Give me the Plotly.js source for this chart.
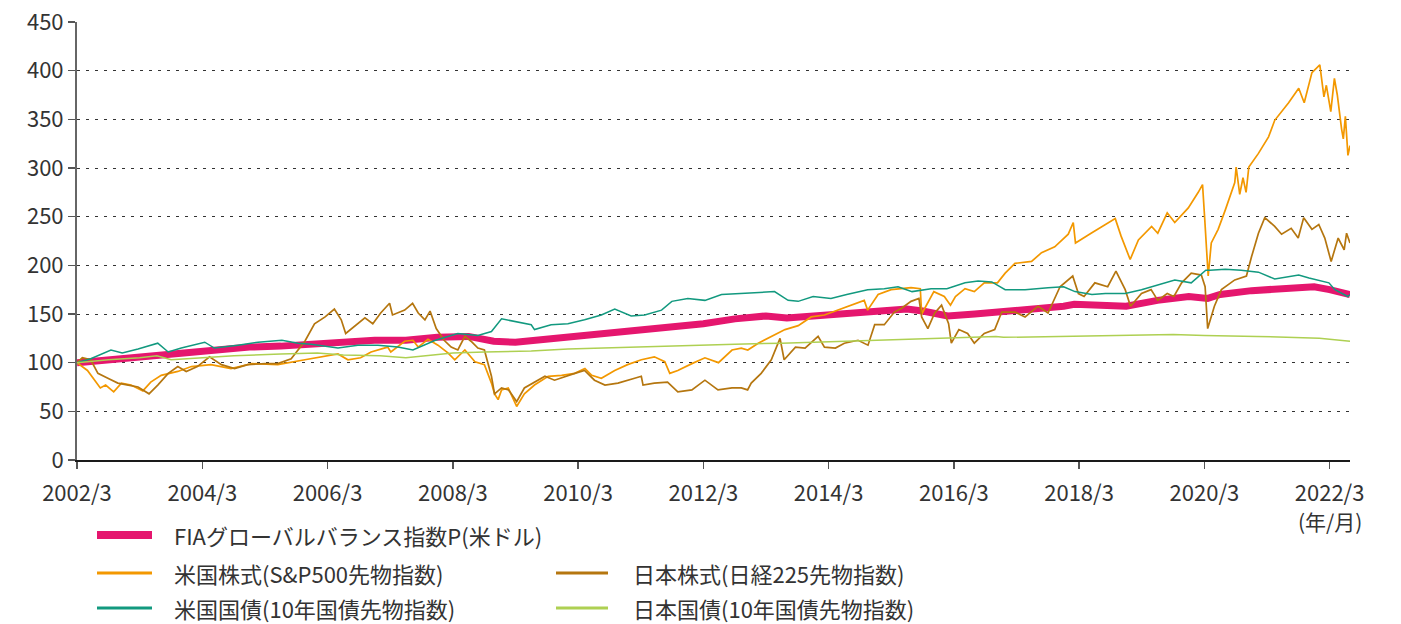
<!DOCTYPE html>
<html>
<head>
<meta charset="utf-8">
<script src="https://cdn.plot.ly/plotly-3.0.1.min.js"></script>
<style>
  html, body { margin: 0; padding: 0; background: #ffffff; }
  #chart { width: 1401px; height: 624px; }
</style>
</head>
<body>
<div id="chart"></div>
<script>
// ---- Series names ----
const seriesNames = [
  "FIAグローバルバランス指数P(米ドル)",
  "米国株式(S&P500先物指数)",
  "日本株式(日経225先物指数)",
  "米国国債(10年国債先物指数)",
  "日本国債(10年国債先物指数)"
];

// ---- FIA global balance index ----
const fiaDates = ["2002-03-01","2002-07-01","2002-12-01","2003-06-01","2003-12-01","2004-06-01","2004-12-01","2005-06-01","2005-12-01","2006-06-01","2006-12-01","2007-06-01","2007-12-01","2008-06-01","2008-10-25","2009-03-01","2009-09-01","2010-03-01","2010-09-01","2011-03-01","2011-09-01","2012-03-01","2012-09-01","2013-03-01","2013-07-01","2013-12-01","2014-06-01","2014-12-01","2015-06-01","2015-09-01","2016-01-25","2016-07-01","2016-12-01","2017-06-01","2017-12-01","2018-02-01","2018-06-01","2018-12-01","2019-06-01","2019-12-01","2020-03-20","2020-06-01","2020-12-01","2021-06-01","2021-12-01","2022-03-01","2022-06-28"];
const fiaVals  = [100,102,104,107,110,113,116,117,119,121,123,123,126,127,122,121,124,128,131,134,137,140,145,148,146,148,150,152,155,153,148,150,152,154,158,160,159,158,164,168,166,170,174,176,178,175,170];

// ---- US equities (S&P500 futures) ----
const spxDates = ["2002-03-01","2002-05-01","2002-07-15","2002-08-15","2002-10-01","2002-11-15","2003-01-10","2003-03-20","2003-05-05","2003-07-05","2003-10-10","2003-12-28","2004-04-20","2004-08-15","2004-12-15","2005-05-15","2005-10-20","2006-02-15","2006-05-01","2006-06-28","2006-09-10","2006-11-10","2007-02-15","2007-03-05","2007-05-25","2007-07-12","2007-08-12","2007-10-08","2007-12-05","2008-02-01","2008-03-12","2008-05-10","2008-07-08","2008-09-01","2008-10-12","2008-10-30","2008-11-20","2008-12-10","2009-01-18","2009-03-08","2009-04-22","2009-06-20","2009-09-08","2009-11-25","2010-02-10","2010-04-10","2010-05-20","2010-07-15","2010-10-01","2010-12-15","2011-03-05","2011-05-20","2011-07-20","2011-08-18","2011-10-04","2011-12-25","2012-03-10","2012-05-28","2012-08-15","2012-10-08","2012-11-15","2013-01-15","2013-04-01","2013-06-20","2013-09-05","2013-11-20","2014-02-05","2014-04-25","2014-07-12","2014-09-25","2014-10-15","2014-12-15","2015-03-01","2015-06-25","2015-08-18","2015-08-26","2015-11-05","2016-01-05","2016-02-10","2016-03-10","2016-05-05","2016-06-28","2016-08-25","2016-11-10","2016-12-25","2017-02-20","2017-05-28","2017-07-25","2017-10-10","2017-12-28","2018-01-26","2018-02-08","2018-05-10","2018-07-30","2018-09-28","2018-11-01","2018-12-24","2019-02-10","2019-04-28","2019-06-03","2019-07-28","2019-09-10","2019-11-28","2020-01-25","2020-02-19","2020-03-03","2020-03-23","2020-04-10","2020-05-20","2020-07-01","2020-08-25","2020-09-02","2020-09-23","2020-10-12","2020-10-30","2020-11-15","2021-01-10","2021-03-10","2021-04-15","2021-07-05","2021-09-02","2021-10-04","2021-11-18","2022-01-03","2022-01-27","2022-02-10","2022-03-08","2022-03-29","2022-04-15","2022-05-10","2022-05-20","2022-06-01","2022-06-16","2022-06-28"];
const spxVals  = [100,92,74,77,70,79,77,71,80,87,91,96,98,94,99,98,103,107,109,103,105,111,116,111,122,123,116,124,118,110,103,113,101,98,79,68,62,72,74,55,68,77,86,87,89,94,87,84,92,98,103,106,101,89,92,99,105,100,113,115,113,120,127,134,138,147,149,154,159,164,154,170,175,177,176,150,173,168,159,168,176,173,182,182,192,202,204,213,219,232,244,223,233,242,248,230,206,226,240,233,254,244,259,275,283,247,189,223,237,257,285,301,273,290,275,301,315,332,349,367,382,367,398,406,373,385,358,392,375,340,330,353,313,323];

// ---- Japanese equities (Nikkei 225 futures) ----
const nkyDates = ["2002-03-01","2002-04-01","2002-05-20","2002-07-01","2002-08-28","2002-10-25","2002-12-25","2003-02-20","2003-04-25","2003-06-15","2003-08-15","2003-10-10","2003-11-28","2004-02-01","2004-04-12","2004-06-20","2004-09-05","2004-11-20","2005-02-28","2005-05-15","2005-08-01","2005-10-20","2005-12-15","2006-02-15","2006-04-10","2006-05-20","2006-06-15","2006-08-05","2006-10-05","2006-11-20","2007-01-05","2007-02-26","2007-03-15","2007-05-25","2007-07-10","2007-08-12","2007-09-20","2007-10-20","2007-11-25","2008-01-10","2008-02-20","2008-03-30","2008-05-10","2008-06-15","2008-07-25","2008-09-01","2008-10-12","2008-10-30","2008-12-10","2009-01-20","2009-03-08","2009-04-22","2009-06-20","2009-08-20","2009-10-15","2009-12-15","2010-02-10","2010-04-08","2010-06-05","2010-08-05","2010-10-20","2011-01-25","2011-03-05","2011-03-15","2011-05-20","2011-08-05","2011-10-04","2011-12-25","2012-03-10","2012-05-25","2012-08-15","2012-10-08","2012-11-14","2012-12-05","2013-02-01","2013-04-01","2013-05-22","2013-06-15","2013-08-20","2013-10-15","2013-12-30","2014-02-05","2014-04-10","2014-06-01","2014-08-20","2014-10-17","2014-11-25","2015-01-20","2015-03-20","2015-05-01","2015-06-25","2015-08-10","2015-08-26","2015-10-01","2015-11-10","2015-12-20","2016-01-30","2016-02-15","2016-03-30","2016-05-20","2016-06-28","2016-08-25","2016-10-25","2016-12-05","2017-02-20","2017-04-20","2017-07-05","2017-09-01","2017-11-10","2018-01-23","2018-02-25","2018-03-30","2018-06-01","2018-08-15","2018-10-02","2018-11-25","2018-12-26","2019-02-28","2019-04-25","2019-06-03","2019-07-28","2019-09-05","2019-10-20","2019-12-15","2020-02-12","2020-03-05","2020-03-20","2020-04-28","2020-06-08","2020-08-25","2020-11-01","2020-12-01","2021-01-10","2021-02-16","2021-04-15","2021-05-25","2021-07-20","2021-08-30","2021-10-01","2021-11-18","2021-12-28","2022-02-01","2022-03-10","2022-04-20","2022-05-25","2022-06-08","2022-06-28"];
const nkyVals  = [100,105,103,89,84,79,77,75,68,77,89,96,91,96,106,98,94,98,99,99,104,122,140,147,155,144,130,137,146,140,151,161,149,154,161,151,144,153,135,123,116,113,127,122,115,113,86,68,74,72,60,74,80,86,82,86,89,92,82,77,79,84,86,77,79,80,70,72,82,72,74,74,72,79,89,103,125,103,116,115,127,116,115,120,123,118,139,139,152,156,163,166,147,135,151,159,140,120,134,130,120,130,134,152,152,147,158,151,178,189,171,168,182,178,194,175,158,171,175,164,171,168,182,192,190,178,135,158,175,185,189,209,233,249,240,232,238,228,249,237,242,228,204,228,216,233,223];

// ---- US Treasuries (10y futures) ----
const ustDates = ["2002-03-01","2002-05-20","2002-09-15","2002-11-20","2003-02-20","2003-06-15","2003-08-15","2003-10-30","2004-03-15","2004-05-10","2004-09-25","2005-01-20","2005-06-08","2005-09-10","2005-11-25","2006-05-01","2006-08-25","2006-12-20","2007-04-15","2007-06-15","2007-07-12","2007-11-20","2008-03-30","2008-07-25","2008-10-12","2008-12-10","2009-03-15","2009-06-01","2009-06-20","2009-09-25","2010-01-01","2010-04-08","2010-07-15","2010-10-01","2011-01-05","2011-03-25","2011-07-01","2011-08-30","2011-12-01","2012-03-10","2012-06-15","2012-10-08","2013-01-01","2013-04-20","2013-07-08","2013-09-05","2013-12-01","2014-03-15","2014-06-15","2014-10-15","2015-01-20","2015-04-10","2015-07-01","2015-10-20","2016-01-20","2016-05-05","2016-07-20","2016-10-08","2016-12-25","2017-04-20","2017-09-01","2017-12-01","2018-02-05","2018-05-15","2018-08-01","2018-11-25","2019-02-28","2019-06-05","2019-09-10","2019-12-15","2020-03-09","2020-04-01","2020-07-01","2020-10-01","2021-01-10","2021-04-15","2021-07-20","2021-09-02","2021-11-01","2022-02-25","2022-04-01","2022-05-10","2022-06-15","2022-06-28"];
const ustVals  = [100,104,113,110,114,120,111,115,121,115,118,121,123,120,119,115,118,118,116,114,113,123,130,128,132,145,142,139,134,139,140,144,149,155,148,149,154,163,166,164,170,171,172,173,164,163,168,166,170,175,176,178,173,176,176,182,184,183,175,175,177,178,173,170,171,171,175,180,185,182,195,195,196,195,193,186,189,190,187,182,175,171,168,170];

// ---- Japanese government bonds (10y futures) ----
const jgbDates = ["2002-03-01","2002-09-01","2003-03-01","2003-06-10","2003-09-01","2004-03-01","2004-09-01","2005-06-01","2006-01-01","2006-06-01","2007-01-01","2007-06-01","2008-03-01","2008-09-01","2009-06-01","2010-01-01","2011-01-01","2012-01-01","2012-09-01","2013-06-01","2014-06-01","2015-06-01","2016-06-01","2016-11-01","2016-12-15","2017-12-01","2019-09-01","2020-03-01","2021-01-01","2022-01-01","2022-06-28"];
const jgbVals  = [100,103,105,107,103,105,107,109,110,108,107,105,110,111,112,114,116,118,119,120,122,124,126,127,126,127,129,128,127,125,122];

// ---- Axis ticks ----
const tickDates  = ["2002-03-01","2004-03-01","2006-03-01","2008-03-01","2010-03-01","2012-03-01","2014-03-01","2016-03-01","2018-03-01","2020-03-01","2022-03-01"];
const tickLabels = ["2002/3","2004/3","2006/3","2008/3","2010/3","2012/3","2014/3","2016/3","2018/3","2020/3","2022/3"];
const axisUnitLabel = "(年/月)";

// ---- Styles ----
const colors = ["#e5166e", "#f39800", "#b5760f", "#12997f", "#aed052"];
const widths = [7, 1.7, 1.7, 1.5, 1.5];

const W = 1401, H = 624;
const M = { l: 77, r: 51, t: 22, b: 164 };
const pw = W - M.l - M.r, ph = H - M.t - M.b;
const px = x => (x - M.l) / pw;
const py = y => (H - M.b - y) / ph;

const seriesData = [
  [fiaDates, fiaVals], [spxDates, spxVals], [nkyDates, nkyVals],
  [ustDates, ustVals], [jgbDates, jgbVals]
];

const traces = seriesData.map((d, i) => ({
  type: "scatter", mode: "lines",
  x: d[0], y: d[1], name: seriesNames[i],
  line: { color: colors[i], width: widths[i], shape: "linear" },
  showlegend: false, hoverinfo: "skip"
}));

// manual legend (2 columns)
const legendItems = [
  { i: 0, x0: 97,  x1: 152, tx: 172, y: 535 },
  { i: 1, x0: 97,  x1: 152, tx: 172, y: 573 },
  { i: 3, x0: 97,  x1: 152, tx: 172, y: 608 },
  { i: 2, x0: 556, x1: 608, tx: 631, y: 573 },
  { i: 4, x0: 556, x1: 608, tx: 631, y: 608 }
];
const shapes = legendItems.map(it => ({
  type: "line", xref: "paper", yref: "paper",
  x0: px(it.x0), x1: px(it.x1), y0: py(it.y), y1: py(it.y),
  line: { color: colors[it.i], width: it.i === 0 ? 8 : 3 }
}));
const annotations = legendItems.map(it => ({
  xref: "paper", yref: "paper", x: px(it.tx), y: py(it.y),
  xanchor: "left", yanchor: "middle", showarrow: false,
  text: seriesNames[it.i], font: { size: 22, color: "#333333" }
}));
annotations.push({
  xref: "paper", yref: "paper", x: px(1330), y: py(521),
  xanchor: "center", yanchor: "middle", showarrow: false,
  text: axisUnitLabel, font: { size: 21, color: "#333333" }
});

const layout = {
  width: W, height: H,
  margin: M,
  paper_bgcolor: "#ffffff", plot_bgcolor: "#ffffff",
  font: { family: "Noto Sans CJK JP, Noto Sans, sans-serif", size: 21, color: "#333333" },
  showlegend: false,
  xaxis: {
    type: "date",
    range: ["2002-03-01", "2022-06-28"],
    tickmode: "array", tickvals: tickDates, ticktext: tickLabels,
    showgrid: false, zeroline: false,
    showline: true, linecolor: "#1a1a1a", linewidth: 2,
    ticks: "outside", ticklen: 7, tickwidth: 1.5, tickcolor: "#555555",
    ticklabelstandoff: 6,
    tickfont: { size: 22, color: "#333333" }
  },
  yaxis: {
    range: [0, 450], dtick: 50, tick0: 0,
    showgrid: true, gridcolor: "#333333", gridwidth: 1, griddash: "3px,6px",
    zeroline: false,
    showline: true, linecolor: "#666666", linewidth: 2,
    ticks: "outside", ticklen: 7, tickwidth: 1.5, tickcolor: "#555555",
    tickfont: { size: 22, color: "#333333" }
  },
  shapes: shapes,
  annotations: annotations
};

Plotly.newPlot("chart", traces, layout, { staticPlot: true, displayModeBar: false });
</script>
</body>
</html>
